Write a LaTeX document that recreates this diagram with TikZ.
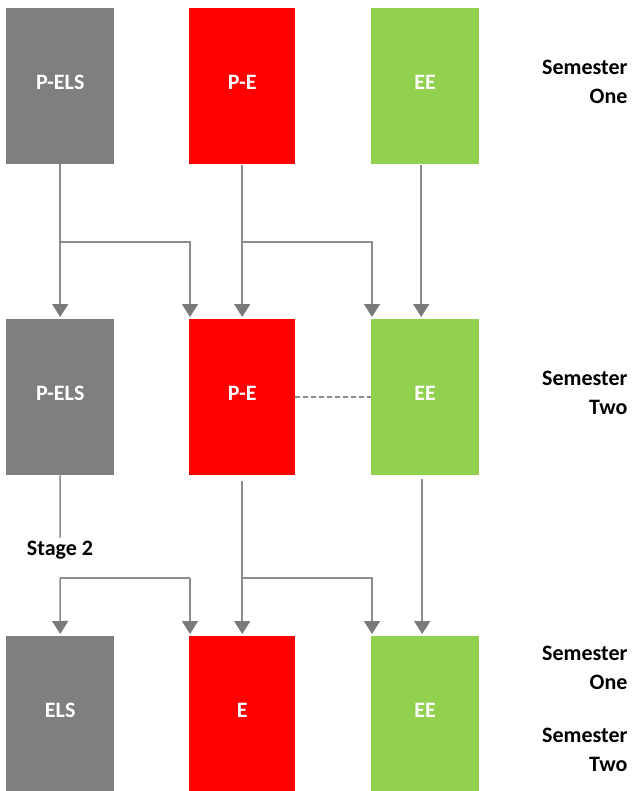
\documentclass[tikz,border=0pt]{standalone}
\usepackage{fontspec}
\setmainfont{Carlito}
\usetikzlibrary{arrows.meta}
\definecolor{unitgray}{HTML}{7F7F7F}
\definecolor{unitred}{HTML}{FF0000}
\definecolor{unitgreen}{HTML}{92D050}
\definecolor{wiregray}{HTML}{8C8C8C}
\definecolor{tipgray}{HTML}{7A7A7A}
% unit names sit a little above the box centre
\newcommand\unitname[1]{\raisebox{7.5pt}{#1}}
\begin{document}
\begin{tikzpicture}[x=1pt,y=-1pt,
  unit/.style={anchor=north west, minimum height=156pt, inner sep=0pt,
    text=white, font=\fontsize{22}{26}\selectfont\bfseries},
  grayunit/.style={unit, fill=unitgray, minimum width=108pt},
  redunit/.style={unit, fill=unitred, minimum width=106pt},
  greenunit/.style={unit, fill=unitgreen, minimum width=108pt},
  wire/.style={draw=wiregray, line width=1.5pt},
  link/.style={wire, -{Triangle[width=16pt,length=13pt,color=tipgray]}, shorten >=2pt},
  dashwire/.style={draw=wiregray, line width=1.5pt, dash pattern=on 5pt off 3pt},
  termlabel/.style={anchor=east, align=right, text=black,
    font=\fontsize{22}{29}\selectfont\bfseries},
  stagelabel/.style={font=\fontsize{22}{26}\selectfont\bfseries, inner sep=3pt}
]
\useasboundingbox (0,0) rectangle (631,791);

% first row of units
\node[grayunit]  (g1) at (6,8)   {\unitname{P-ELS}};
\node[redunit]   (r1) at (189,8) {\unitname{P-E}};
\node[greenunit] (e1) at (371,8) {\unitname{EE}};

% second row of units
\node[grayunit]  (g2) at (6,319)   {\unitname{P-ELS}};
\node[redunit]   (r2) at (189,319) {\unitname{P-E}};
\node[greenunit] (e2) at (371,319) {\unitname{EE}};

% third row of units
\node[grayunit]  (g3) at (6,636)   {\unitname{ELS}};
\node[redunit]   (r3) at (189,636) {\unitname{E}};
\node[greenunit] (e3) at (371,636) {\unitname{EE}};

% semester labels
\node[termlabel] (t1) at (631,81.5) {Semester\\One};
\node[termlabel] (t2) at (631,393)  {Semester\\Two};
\node[termlabel] (t3) at (631,668)  {Semester\\One};
\node[termlabel] (t4) at (631,750)  {Semester\\Two};

% progression from the first row to the second
\coordinate (ja) at (60,242);
\coordinate (jb) at (242,242);
\draw[link] (g1.south) -- (g2.north);
\draw[link] (ja) -| ([xshift=1pt]r2.north west);
\draw[link, shorten <=1pt] (r1.south) -- (r2.north);
\draw[link] (jb) -| ([xshift=1pt]e2.north west);
\draw[link, shorten <=1pt] ([xshift=-4pt]e1.south) -- ([xshift=-4pt]e2.north);

% link between the second-row units
\draw[dashwire] (r2.east) -- (e2.west);

% progression from the second row to the third
\node[stagelabel] (stage) at (60,550) {Stage 2};
\draw[wire] (g2.south) -- (stage.north);
\coordinate (jc) at (60,578);
\coordinate (jd) at (242,578);
\draw[wire] (jc) -- ([xshift=1pt]jc -| r3.north west);
\draw[link] (jc) -- (g3.north);
\draw[link] ([xshift=1pt]jc -| r3.north west) -- ([xshift=1pt]r3.north west);
\draw[link, shorten <=6pt] (r2.south) -- (r3.north);
\draw[link] (jd) -| ([xshift=1pt]e3.north west);
\draw[link, shorten <=4pt] ([xshift=-3pt]e2.south) -- ([xshift=-3pt]e3.north);
\end{tikzpicture}
\end{document}
